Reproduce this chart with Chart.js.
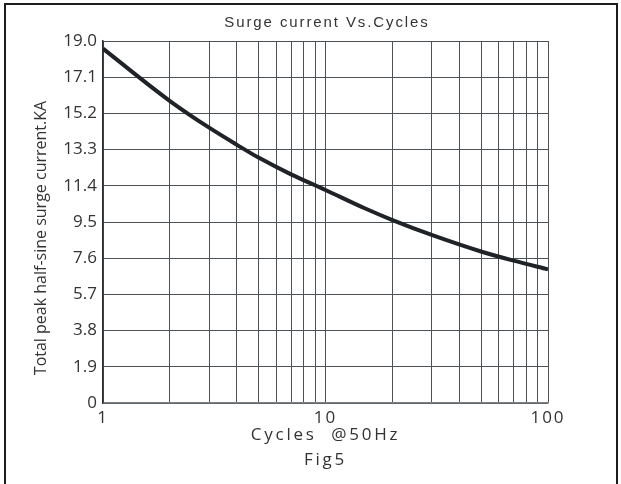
<!DOCTYPE html>
<html>
<head>
<meta charset="utf-8">
<script src="https://cdn.jsdelivr.net/npm/chart.js@4/dist/chart.umd.min.js"></script>
<style>
  html, body { margin: 0; padding: 0; background: #fff; }
  #wrap { position: relative; width: 621px; height: 484px; overflow: hidden; }
  #frame { position: absolute; left: 4px; top: 3px; width: 614px; height: 520px; border: 2px solid #1c1c1c; box-sizing: border-box; }
  canvas { position: absolute; left: 0; top: 0; }
</style>
</head>
<body>
<div id="wrap">
  <div id="frame"></div>
  <canvas id="plot" width="621" height="484"></canvas>
</div>
<script>
// values
const cycles = [1, 2, 3, 4, 5, 7, 10, 15, 20, 30, 50, 70, 100];
const surgeKA = [18.6, 15.85, 14.45, 13.55, 12.88, 12.0, 11.18, 10.22, 9.6, 8.82, 7.95, 7.47, 7.02];

const yTicks = [0, 1.9, 3.8, 5.7, 7.6, 9.5, 11.4, 13.3, 15.2, 17.1, 19.0];
const xGridLines = [1, 2, 3, 4, 5, 6, 7, 8, 9, 10, 20, 30, 40, 50, 60, 70, 80, 90, 100];
const xLabels = [1, 10, 100];

const yTitle = "Total peak half-sine surge current.KA";

const points = cycles.map((c, i) => ({ x: c, y: surgeKA[i] }));

// the original drawing spaces some of its texts out
const textGaps = {
    "Surge current Vs.Cycles": "1.9px",
    "Cycles  @50Hz": "2.8px",
    "Fig5": "2.8px",
    "1": "2px",
    "10": "2px",
    "100": "2px",
};
// the y title sits a bit below the middle of the axis in the original
const textShift = { [yTitle]: -16 };

const spacing = {
    id: "spacing",
    beforeInit(chart) {
        const ctx = chart.ctx;
        const fill = ctx.fillText.bind(ctx);
        ctx.fillText = (text, x, y, maxWidth) => {
            ctx.letterSpacing = textGaps[text] || "0px";
            const dx = textShift[text] || 0;
            if (maxWidth === undefined) fill(text, x + dx, y);
            else fill(text, x + dx, y, maxWidth);
        };
    }
};

const gridColor = "#4d5257";
const textColor = "#333333";

const plot = document.getElementById("plot").getContext("2d");
new Chart(plot, {
    type: "line",
    data: {
        datasets: [
            {
                label: "Surge current",
                data: points,
                borderColor: "#1f2327",
                borderWidth: 4,
                pointRadius: 0,
                fill: false,
                cubicInterpolationMode: "monotone",
            },
        ],
    },
    options: {
        responsive: false,
        animation: false,
        layout: {
            padding: { left: 33, right: 0, top: 0, bottom: 0 },
        },
        plugins: {
            legend: { display: false },
            tooltip: { enabled: false },
            title: {
                display: true,
                text: "Surge current Vs.Cycles",
                color: textColor,
                font: { family: "Liberation Sans", size: 15, weight: "normal", lineHeight: 1.2 },
                padding: { top: 13.8, bottom: 9.2 },
            },
        },
        scales: {
            x: {
                type: "logarithmic",
                min: 1,
                max: 100,
                afterBuildTicks: (s) => {
                    s.ticks = xGridLines.map((v) => ({ value: v }));
                },
                afterFit: (s) => {
                    s.height = 81;
                },
                ticks: {
                    autoSkip: false,
                    maxRotation: 0,
                    padding: 5,
                    color: textColor,
                    font: { family: "Open Sans", size: 17 },
                    callback: (v) => (xLabels.includes(v) ? String(v) : ""),
                },
                grid: { color: gridColor, lineWidth: 1, drawTicks: false },
                border: { color: "#7a7f84", width: 1.5 },
                title: {
                    display: true,
                    text: ["Cycles  @50Hz", "Fig5"],
                    color: textColor,
                    font: { family: "Open Sans", size: 17, lineHeight: 1.47 },
                    padding: { top: 0, bottom: 11 },
                },
            },
            y: {
                min: 0,
                max: 19,
                afterBuildTicks: (s) => {
                    s.ticks = yTicks.map((v) => ({ value: v }));
                },
                afterFit: (s) => {
                    s.width = 70;
                },
                ticks: {
                    padding: 6,
                    color: textColor,
                    font: { family: "Open Sans", size: 17 },
                    callback: (v) => (v === 0 ? "0" : v.toFixed(1)),
                },
                grid: { color: gridColor, lineWidth: 1, drawTicks: false },
                border: { color: "#2b2f33", width: 1.5 },
                title: {
                    display: true,
                    text: yTitle,
                    color: textColor,
                    font: { family: "Open Sans", size: 16, lineHeight: 1 },
                    padding: 0,
                },
            },
            // empty right-hand axis, keeps the blank margin right of the grid
            yRight: {
                position: "right",
                min: 0,
                max: 19,
                afterFit: (s) => {
                    s.width = 73;
                },
                ticks: { display: false },
                grid: { display: false },
                border: { display: false },
            },
        },
    },
    plugins: [spacing],
});
</script>
</body>
</html>
